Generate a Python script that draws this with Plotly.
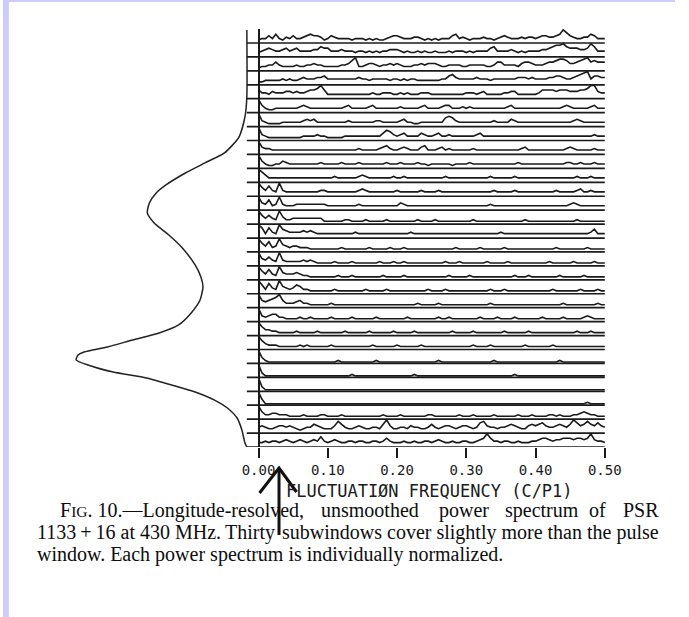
import plotly.graph_objects as go

W, H = 689, 617

# ------------------------------------------------------------------ data
freq_tick_vals = [0.0, 0.1, 0.2, 0.3, 0.4, 0.5]
freq_tick_text = ["0.00", "0.10", "0.20", "0.30", "0.40", "0.50"]
freq_step = 0.005      # spectral bin width (cycles / P1)
power_unit = 0.105     # one digit of normalised power, in row spacings

# 30 longitude subwindows, top to bottom; each digit = normalised power of one
# frequency bin (0.00 ... 0.50 C/P1)
spectra_top_to_bottom = [
    "2335363243 5334565542 3543333233 3232322345 5433344323 2323335634 3233343323 4543334344 3455445697 5433446533 3",
    "3456544564 5644445576 6444544434 4343434455 5434334343 3433343444 3434444674 4445434344 4455678897 6665569744 4",
    "2334464333 3433445443 3333445793 3455434454 5433344545 5543344443 3444443346 6444435665 4445667887 5567896766 6",
    "2233333434 3345444556 4444444445 4434444434 4343443333 3334467544 4445444344 4444455545 4444556654 4567894665 5",
    "6443544455 4544566796 3333333333 3334334443 3434333444 3333333333 4443453333 3445533333 3466665666 5556679954 4",
    "9532233333 3345433333 3333345333 3345333333 3433333453 3334553334 3433333333 3345333333 3333333345 4333334533 3",
    "9432222333 3334545333 3333334333 3333443333 3453322333 3333676433 3333333343 3335433333 3333333333 3454333333 3",
    "9432222222 2223333433 2222233333 3333335764 3453333543 3453343333 3334533333 3333333333 3333333333 3333333433 3",
    "9544333333 3333333333 3333333334 3333345643 3454333563 3345343333 3343333333 3333334533 3333333334 5433333433 3",
    "9532233543 3333333343 3333433334 3333333433 3433334332 3333332333 3433333333 3333343333 3333333334 4334333433 3",
    "9753333333 3333333333 3343333334 5433333334 3343333333 3333433333 3333333433 3333433333 3333333333 3343334333 3",
    "9647439433 3333333344 3333333334 5433333333 4333333433 3343333333 3333333343 3333433333 3333334333 3345334333 3",
    "9547349433 3444444444 3333333334 3333333333 3543333333 3333333333 3333333433 3333333333 3333333333 4543333333 3",
    "9646439533 4444444442 2222233222 2322222322 2222223222 2322222222 2232222222 2222222322 2222222222 2232222222 2",
    "9737439654 4445454333 3333333343 3333333333 3333433333 3333333333 3333333333 4333333333 3333333333 3333334633 3",
    "9647349543 4433322222 2222322222 2232222232 2232222222 2222222322 2222322222 2322222222 2222223222 2222232222 2",
    "9546439433 3334343222 2232222322 2222232223 2232222222 2222322232 2222223222 2232222222 2222322222 2322222322 2",
    "9647439544 4543322222 2223222322 2222223222 2232222222 2222232222 2322222222 2222322232 2222222322 2222322222 2",
    "9637439543 4653322222 2232222222 2322222322 2222222223 2222322222 2222222322 2322222222 2222232222 2223222232 2",
    "9545679533 3453322222 2322222222 2222222222 2222223222 2232222222 2222222322 2222222222 2222222232 2222222232 2",
    "9434553322 2232232222 2322222322 2222322222 2223222222 2232232222 2222322223 2222322222 2232222232 2222343222 2",
    "9644332222 2322222322 2222232222 2232222223 2222232222 2222223222 2232222222 2322222232 2222222222 2232223222 2",
    "9643332222 2232322222 2322222222 2223222222 3222222322 2222222222 2232222322 2222222322 2222232222 2222222222 2",
    "9421111111 1111111111 1112111111 1111211111 1111111111 1121111111 1111111121 1111111111 1111111211 1111111111 1",
    "9311111111 1111111111 1111111211 1111111111 1111121111 1111111111 1111111111 1111211111 1111111111 1111111111 1",
    "9311111111 1111111111 1111111111 1111111111 1111111111 1111111111 1111111111 1111111111 1111111111 1111111111 1",
    "9411111111 1111111111 1111111111 1111111111 1111111111 1111111111 1111111111 1111111111 1111111111 1111121111 1",
    "9533443332 2223222233 2222322222 2222223222 2322222223 3222222232 2232222232 2222232223 2222332322 2334543322 2",
    "4543345545 4323446543 3358643345 4334436953 3443544334 6434554345 5434785443 4456543356 5675445654 6975686575 4",
    "3343443454 3454345474 3454334434 4334434643 3343343344 3454334334 4334569644 3443343334 4566545566 6566569544 3",
]

# average pulse profile drawn down the left side (longitude in subwindow units
# counted from the bottom, intensity normalised to the peak)
profile_longitude = [29.94, 25.13, 23.69, 22.25, 21.11, 20.39, 19.67, 18.81, 18.23, 17.51,
                     16.80, 16.08, 15.22, 14.36, 13.07, 12.20, 11.49, 10.55, 9.62, 8.76,
                     8.18, 7.68, 7.18, 6.82, 6.60, 6.25, 5.89, 5.38, 4.95, 4.45,
                     3.95, 3.37, 2.80, 2.08, 1.22, 0.29, 0.0]
profile_intensity = [0.0, 0.0, 0.011, 0.046, 0.131, 0.246, 0.36, 0.474, 0.531, 0.571,
                     0.583, 0.543, 0.457, 0.383, 0.303, 0.269, 0.257, 0.274, 0.326, 0.40,
                     0.514, 0.669, 0.817, 0.954, 0.989, 1.0, 0.931, 0.783, 0.589, 0.44,
                     0.303, 0.189, 0.114, 0.057, 0.029, 0.011, 0.0]

axis_title = "FLUCTUATIØN FREQUENCY (C/P1)"
caption_lines = [
    [("F<span style='font-size:15.5px'>IG</span>. 10.—Longitude-resolved,", 57, "left"),
     ("unsmoothed", 325, "left"), ("power", 446, "left"), ("spectrum", 514, "left"),
     ("of", 600, "left"), ("PSR", 674, "right")],
    [("1133\u2009+\u200916 at 430 MHz.", 34, "left"), ("Thirty", 280, "right"),
     ("subwindows cover slightly more than the pulse", 674, "right")],
    [("window. Each power spectrum is individually normalized.", 34, "left")],
]
caption_y_px = [510, 532, 554]

# ------------------------------------------------------------------ layout helpers
def fx(px):
    return px / W


def fy(py):
    return 1 - py / H


INK = "#1a1a1a"
n_rows = len(spectra_top_to_bottom)
x0_px, x50_px = 262.0, 617.0          # pixel positions of 0.00 and 0.50
px_per_unit = (x50_px - x0_px) / 0.5
bottom_px, top_base_px, top_px = 447.0, 43.0, 29.0
row_px = (bottom_px - top_base_px) / (n_rows - 1)
baseline_start = (250.0 - x0_px) / px_per_unit

fig = go.Figure()

# baselines of every subwindow
bx, by = [], []
for k in range(n_rows):
    bx += [baseline_start, 0.5, None]
    by += [k, k, None]
fig.add_trace(go.Scatter(x=bx, y=by, mode="lines", line=dict(color=INK, width=1.7),
                         hoverinfo="skip", showlegend=False))

# power spectra
sx, sy = [], []
for r, row in enumerate(spectra_top_to_bottom):
    digits = [int(c) for c in row if c.isdigit()]
    base = n_rows - 1 - r
    for i, d in enumerate(digits):
        sx.append(i * freq_step)
        sy.append(base + d * power_unit)
    sx.append(None)
    sy.append(None)
fig.add_trace(go.Scatter(x=sx, y=sy, mode="lines", line=dict(color=INK, width=1.6),
                         hoverinfo="skip", showlegend=False))

# pulse profile
fig.add_trace(go.Scatter(x=profile_intensity, y=profile_longitude, xaxis="x2", yaxis="y",
                         mode="lines", line=dict(color="#222", width=1.5, shape="spline",
                                                 smoothing=0.6),
                         hoverinfo="skip", showlegend=False))

x_left_px, x_right_px = 248.0, 620.0
p_left, p_right = 40.0, 256.0
p_scale = 175.0   # px per unit intensity

fig.update_layout(
    width=W, height=H, margin=dict(l=0, r=0, t=0, b=0),
    paper_bgcolor="white", plot_bgcolor="rgba(0,0,0,0)",
    xaxis=dict(domain=[fx(x_left_px), fx(x_right_px)],
               range=[(x_left_px - x0_px) / px_per_unit, (x_right_px - x0_px) / px_per_unit],
               tickvals=freq_tick_vals, ticktext=freq_tick_text,
               ticks="outside", ticklen=10, tickwidth=1.6, tickcolor=INK,
               tickfont=dict(family="DejaVu Sans Mono", size=14, color=INK),
               showgrid=False, showline=False,
               zeroline=True, zerolinecolor=INK, zerolinewidth=1.7),
    xaxis2=dict(domain=[fx(p_left), fx(p_right)],
                range=[(250 - p_left) / p_scale, (250 - p_right) / p_scale],
                visible=False, anchor="y"),
    yaxis=dict(domain=[fy(bottom_px), fy(top_px)],
               range=[0, (bottom_px - top_px) / row_px], visible=False),
    showlegend=False,
)

shapes = [
    dict(type="rect", xref="paper", yref="paper", x0=0, x1=fx(6), y0=0, y1=1,
         fillcolor="#ccccff", line=dict(width=0), layer="below"),
    dict(type="rect", xref="paper", yref="paper", x0=0, x1=1, y0=fy(2), y1=1,
         fillcolor="#ccccff", line=dict(width=0), layer="below"),
    # pointer arrow under the axis
    dict(type="path", xref="paper", yref="paper",
         path=f"M {fx(283)},{fy(535)} L {fx(283)},{fy(470)}",
         line=dict(color="#111", width=3)),
    dict(type="path", xref="paper", yref="paper",
         path=f"M {fx(263)},{fy(493)} L {fx(283)},{fy(468)} L {fx(301)},{fy(492)}",
         line=dict(color="#111", width=3)),
]

annotations = [
    dict(text=axis_title, xref="paper", yref="paper", x=fx(437), y=fy(491),
         xanchor="center", yanchor="middle", showarrow=False,
         font=dict(family="DejaVu Sans Mono", size=17, color=INK), borderpad=0),
]
cap_font = dict(family="Liberation Serif, Times New Roman, serif", size=20, color="#0d0d0d")
for line, ypx in zip(caption_lines, caption_y_px):
    for text, xpx, anchor in line:
        annotations.append(dict(text=text, xref="paper", yref="paper", x=fx(xpx), y=fy(ypx),
                                xanchor=anchor, yanchor="middle", showarrow=False,
                                font=cap_font, borderpad=0))

fig.update_layout(shapes=shapes, annotations=annotations)
fig.write_html("out.html")
